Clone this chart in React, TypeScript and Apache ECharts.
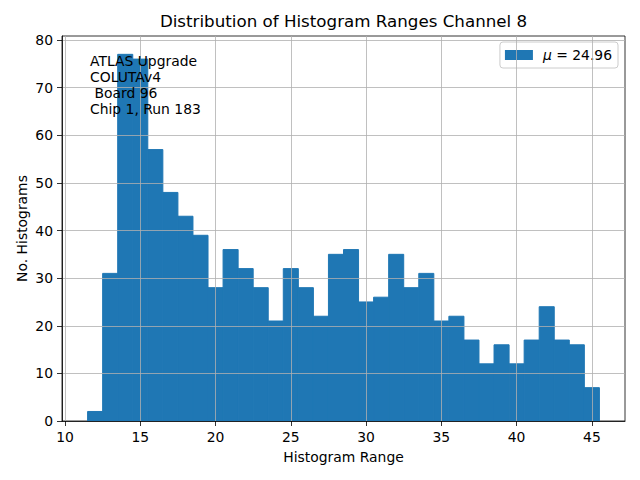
import React, { useEffect, useRef } from "react";
import * as echarts from "echarts";

const binEdges = [
  11.5, 12.5, 13.5, 14.5, 15.5, 16.5, 17.5, 18.5, 19.5, 20.5, 21.5, 22.5,
  23.5, 24.5, 25.5, 26.5, 27.5, 28.5, 29.5, 30.5, 31.5, 32.5, 33.5, 34.5,
  35.5, 36.5, 37.5, 38.5, 39.5, 40.5, 41.5, 42.5, 43.5, 44.5, 45.5,
];
const counts = [
  2, 31, 77, 76, 57, 48, 43, 39, 28, 36, 32, 28, 21, 32, 28, 22, 35, 36, 25,
  26, 35, 28, 31, 21, 22, 17, 12, 16, 12, 17, 24, 17, 16, 7,
];
const xTicks = [10, 15, 20, 25, 30, 35, 40, 45];
const yTicks = [0, 10, 20, 30, 40, 50, 60, 70, 80];
const seriesName = "mu = 24.96";
const infoLines = ["ATLAS Upgrade", "COLUTAv4", " Board 96", "Chip 1, Run 183"];
const titleText = "Distribution of Histogram Ranges Channel 8";

const FONT = "DejaVu Sans";
const BLUE = "#1f77b4";

export default function App() {
  const ref = useRef<HTMLDivElement>(null);
  useEffect(() => {
    if (!ref.current) return;
    const chart = echarts.init(ref.current, null, { renderer: "svg" });
    const data = counts.map((c, i) => [binEdges[i], binEdges[i + 1], c]);
    const axisCommon = {
      axisLine: { show: true, lineStyle: { color: "#000", width: 0.8 } },
      axisTick: { show: true, inside: false, length: 5, lineStyle: { color: "#000", width: 0.8 } },
      splitLine: { show: true, lineStyle: { color: "#b0b0b0", width: 0.8 } },
      z: 5,
    };
    chart.setOption({
      animation: false,
      backgroundColor: "#fff",
      title: {
        text: titleText,
        left: 343.5,
        textAlign: "center",
        top: 12,
        padding: 0,
        textStyle: { fontFamily: FONT, fontSize: 16.7, fontWeight: "normal", color: "#000" },
      },
      grid: {
        left: 62,
        right: 15,
        top: 36,
        bottom: 59,
        show: true,
        borderColor: "#000",
        borderWidth: 0.8,
        backgroundColor: "transparent",
      },
      legend: {
        right: 22,
        top: 42,
        padding: [6, 6, 6, 5],
        itemWidth: 28,
        itemHeight: 10,
        itemGap: 5,
        borderColor: "#cccccc",
        borderWidth: 1,
        borderRadius: 3,
        backgroundColor: "rgba(255,255,255,0.8)",
        data: [{ name: seriesName, icon: "rect" }],
        formatter: () => "{i|μ} = 24.96",
        textStyle: {
          fontFamily: FONT,
          fontSize: 13.9,
          color: "#000",
          padding: [0, 0, 0, 5],
          rich: { i: { fontFamily: FONT, fontSize: 13.9, fontStyle: "italic", color: "#000" } },
        },
      },
      xAxis: {
        type: "value",
        min: 9.8,
        max: 47.2,
        name: "Histogram Range",
        nameLocation: "middle",
        nameGap: 29,
        nameMoveOverlap: false,
        nameTextStyle: { fontFamily: FONT, fontSize: 13.9, color: "#000" },
        ...axisCommon,
        axisTick: { ...axisCommon.axisTick, customValues: xTicks },
        axisLabel: {
          customValues: xTicks,
          margin: 9,
          fontFamily: FONT,
          fontSize: 13.9,
          color: "#000",
        },
      },
      yAxis: {
        type: "value",
        min: 0,
        max: 80.85,
        name: "No. Histograms",
        nameLocation: "middle",
        nameGap: 33,
        nameMoveOverlap: false,
        nameRotate: 90,
        nameTextStyle: { fontFamily: FONT, fontSize: 13.9, color: "#000" },
        ...axisCommon,
        axisTick: { ...axisCommon.axisTick, customValues: yTicks },
        axisLabel: {
          customValues: yTicks,
          margin: 9,
          fontFamily: FONT,
          fontSize: 13.9,
          color: "#000",
        },
      },
      series: [
        {
          type: "custom",
          name: seriesName,
          itemStyle: { color: BLUE },
          encode: { x: [0, 1], y: 2 },
          data,
          z: 2,
          renderItem: (params: any, api: any) => {
            const p0 = api.coord([api.value(0), api.value(2)]);
            const p1 = api.coord([api.value(1), 0]);
            return {
              type: "rect",
              shape: { x: p0[0], y: p0[1], width: p1[0] - p0[0], height: p1[1] - p0[1] },
              style: { fill: BLUE, stroke: BLUE, lineWidth: 1 },
            };
          },
        },
      ],
      graphic: [
        {
          type: "text",
          left: 90,
          top: 53,
          z: 100,
          style: {
            text: infoLines.join("\n"),
            fontFamily: FONT,
            fontSize: 13.9,
            lineHeight: 16,
            fill: "#000",
          },
        },
      ],
    });
    return () => chart.dispose();
  }, []);
  return <div ref={ref} style={{ width: 640, height: 480, position: "absolute", left: 0, top: 0 }} />;
}
